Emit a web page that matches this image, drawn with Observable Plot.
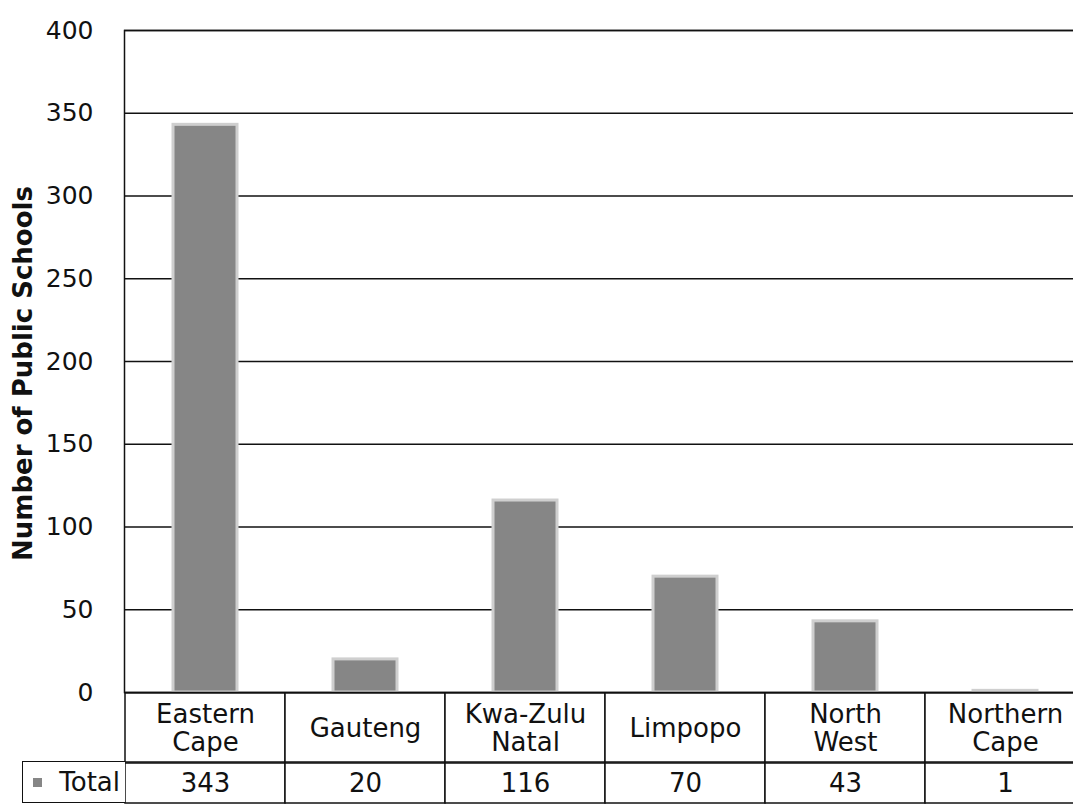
<!DOCTYPE html>
<html>
<head>
<meta charset="utf-8">
<script src="https://cdn.jsdelivr.net/npm/d3@7"></script>
<script src="https://cdn.jsdelivr.net/npm/@observablehq/plot@0.6"></script>
<style>
  html, body { margin: 0; padding: 0; background: white; overflow: hidden; }
  #wrap { position: relative; width: 1073px; height: 807px; font-family: "DejaVu Sans", sans-serif; color: #111; }
  #wrap svg { display: block; }
  #legendCell {
    position: absolute; left: 22px; top: 761px; width: 97px; height: 40px;
    border: 1.5px solid #111; border-right: none; box-sizing: content-box;
    display: flex; align-items: center; justify-content: flex-end; padding-right: 5px;
    font-size: 26px; background: white;
  }
  #legendCell .sw { position: absolute; left: 10px; top: 16px; width: 9px; height: 9px; background: #868686; }
</style>
</head>
<body>
<div id="wrap"></div>
<script>
const categories = ["Eastern Cape", "Gauteng", "Kwa-Zulu Natal", "Limpopo", "North West", "Northern Cape"];
const tickLabels = ["Eastern\nCape", "Gauteng", "Kwa-Zulu\nNatal", "Limpopo", "North\nWest", "Northern\nCape"];
const values = [343, 20, 116, 70, 43, 1];
const yTicks = [0, 50, 100, 150, 200, 250, 300, 350, 400];
const seriesName = "Total";
const yTitle = "Number of Public Schools";

const data = categories.map((name, i) => ({name, label: tickLabels[i], value: values[i]}));

const common = {
  width: 1073,
  marginLeft: 124,
  marginRight: -13,
  style: {fontFamily: "DejaVu Sans", fontSize: "26px", color: "#111", background: "white", overflow: "visible"}
};

const chart = Plot.plot({
  ...common,
  height: 693,
  marginTop: 30,
  marginBottom: 1,
  x: {domain: categories, padding: 0, axis: null},
  y: {domain: [0, 400], axis: null},
  marks: [
    Plot.ruleY(yTicks, {stroke: "#111", strokeWidth: 1.5}),
    Plot.barY(data, {x: "name", y: "value", fill: "#868686", stroke: "#cfcfcf", strokeWidth: 3, insetLeft: 48, insetRight: 48}),
    Plot.frame({stroke: "#111", strokeWidth: 1.5}),
    Plot.axisY(yTicks, {tickSize: 0, tickPadding: 31, fontSize: 25, label: null}),
    Plot.text([yTitle], {text: d => d, frameAnchor: "left", rotate: -90, dx: -101, dy: 12, fontWeight: "bold", fontSize: 26, textAnchor: "middle"})
  ]
});

const header = Plot.plot({
  ...common,
  height: 70,
  marginTop: 0,
  marginBottom: 1,
  x: {domain: categories, padding: 0, axis: null},
  marks: [
    Plot.cell(data, {x: "name", fill: "white", stroke: "#111", strokeWidth: 1.5}),
    Plot.text(data, {x: "name", text: "label", lineHeight: 1.08, fontSize: 26})
  ]
});

const valueRow = Plot.plot({
  ...common,
  height: 44,
  marginTop: 0,
  marginBottom: 4,
  x: {domain: categories, padding: 0, axis: null},
  marks: [
    Plot.cell(data, {x: "name", fill: "white", stroke: "#111", strokeWidth: 1.5}),
    Plot.text(data, {x: "name", text: d => String(d.value), fontSize: 26})
  ]
});

const wrap = document.getElementById("wrap");
wrap.append(chart, header, valueRow);
const legend = document.createElement("div");
legend.id = "legendCell";
legend.innerHTML = '<span class="sw"></span><span>' + seriesName + '</span>';
wrap.append(legend);
</script>
</body>
</html>
